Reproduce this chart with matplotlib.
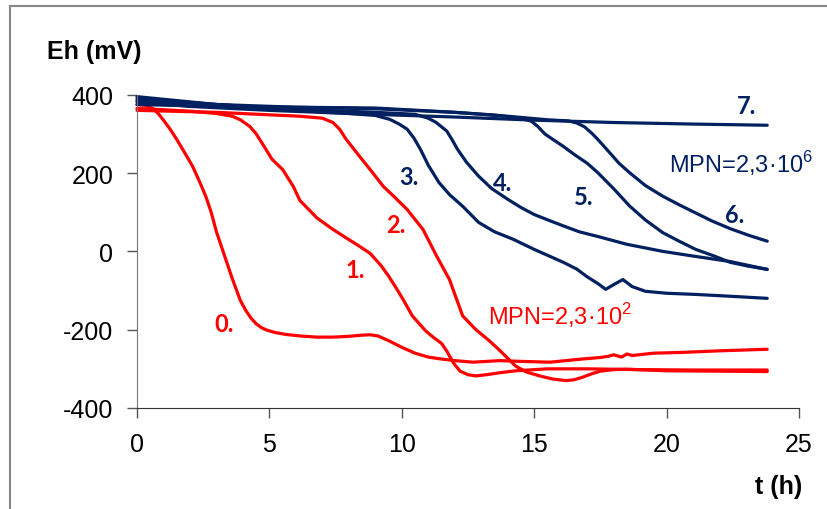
import matplotlib
matplotlib.use("Agg")
import matplotlib.pyplot as plt
from matplotlib.lines import Line2D

plt.rcParams['font.family'] = ['Liberation Sans', 'DejaVu Sans']
plt.rcParams['axes.unicode_minus'] = False

RED = "#FF0000"
NAVY = "#002060"

# --- data (t in h, Eh in mV) ---
t0 = [0, 0.3, 0.6, 0.8, 1.0, 1.25, 1.5, 1.8, 2.1, 2.35, 2.6, 2.8, 3.0, 3.2, 3.4,
      3.6, 3.9, 4.1, 4.3, 4.5, 4.7, 4.9, 5.2, 5.6, 6.15, 6.8, 7.4, 8.0, 8.5, 8.8,
      9.1, 9.5, 10.0, 10.5, 11.0, 11.5, 12.0, 12.7, 13.7, 14.5, 15.6, 16.8, 17.5,
      17.8, 18.0, 18.3, 18.5, 18.7, 19.5, 20.6, 22.0, 23.8]
eh0 = [375, 373, 365, 352, 335, 312, 286, 252, 217, 180, 140, 100, 50, 10, -30,
       -70, -125, -150, -170, -185, -195, -201, -207, -212, -216, -219, -219, -217,
       -214, -213, -216, -228, -245, -260, -270, -275, -279, -283, -279, -281, -283,
       -275, -271, -268, -264, -270, -262, -266, -260, -258, -254, -250]

t1 = [0, 2, 3.0, 3.6, 3.9, 4.26, 4.5, 4.8, 5.1, 5.5, 5.9, 6.15, 6.8, 7.4, 8.0,
      8.4, 8.8, 9.2, 9.5, 9.8, 10.05, 10.4, 10.9, 11.2, 11.5, 11.7, 11.95, 12.2,
      12.5, 12.8, 13.2, 13.7, 14.3, 15.5, 17, 19, 21, 23.8]
eh1 = [365, 358, 352, 345, 336, 319, 300, 268, 235, 209, 166, 130, 85, 56, 30,
       13, -5, -35, -63, -95, -123, -165, -203, -220, -235, -255, -285, -306,
       -315, -318, -315, -310, -305, -300, -300, -302, -303, -303]

t2 = [0, 3, 6.15, 7.0, 7.4, 7.65, 7.9, 8.4, 8.85, 9.3, 9.75, 10.2, 10.8, 11.3,
      11.8, 12.3, 12.8, 13.3, 13.7, 14.3, 14.7, 15.2, 15.7, 16.2, 16.5, 16.8,
      17.2, 17.5, 18.0, 18.5, 20, 22, 23.8]
eh2 = [360, 355, 345, 340, 329, 312, 286, 243, 205, 166, 137, 107, 56, -10,
       -72, -165, -200, -228, -253, -293, -308, -318, -326, -330, -328, -322,
       -312, -306, -302, -301, -305, -306, -307]

t3 = [0, 3, 6, 8, 9.0, 9.55, 9.9, 10.2, 10.45, 10.7, 11.0, 11.4, 11.8, 12.3,
      12.9, 13.5, 14.2, 15.0, 15.6, 16.1, 16.6, 17.0, 17.4, 17.7, 18.0, 18.35,
      18.7, 19.2, 20, 21.1, 22.5, 23.8]
eh3 = [395, 375, 360, 352, 347, 337, 325, 312, 290, 261, 220, 176, 145, 115,
       74, 50, 31, 5, -13, -28, -45, -65, -82, -97, -85, -72, -90, -102, -107,
       -110, -115, -120]

t4 = [0, 3, 6, 9, 10.5, 11.0, 11.3, 11.5, 11.7, 11.9, 12.1, 12.45, 12.9, 13.4,
      14.0, 14.5, 15.0, 15.6, 16.1, 16.7, 17.4, 18.5, 19.85, 21, 22.4, 23.8]
eh4 = [390, 375, 363, 355, 350, 340, 329, 318, 307, 285, 261, 227, 192, 160,
       133, 112, 94, 78, 65, 50, 38, 18, 0, -12, -26, -46]

t5 = [0, 3, 6, 9, 12, 13.5, 14.5, 14.9, 15.15, 15.4, 15.7, 16.1, 16.5, 17.0,
      17.4, 18.0, 18.6, 19.2, 19.85, 20.5, 21.1, 21.8, 22.4, 23.1, 23.8]
eh5 = [385, 375, 368, 364, 355, 348, 340, 332, 318, 300, 286, 268, 248, 225,
       201, 160, 116, 80, 48, 25, 5, -12, -28, -38, -46]

t6 = [0, 3, 6, 9, 12, 14, 15.5, 16.3, 16.6, 16.9, 17.2, 17.4, 17.85, 18.2, 18.6,
      19.2, 19.85, 20.5, 21.1, 21.7, 22.4, 23.1, 23.8]
eh6 = [375, 370, 368, 366, 355, 345, 336, 333, 328, 318, 300, 286, 252, 225,
       201, 168, 141, 118, 98, 78, 58, 41, 26]

t7 = [0, 2, 5, 8, 12, 15, 18, 21, 23.8]
eh7 = [382, 370, 360, 352, 343, 335, 329, 325, 322]

red_series = [(t0, eh0), (t1, eh1), (t2, eh2)]
blue_series = [(t3, eh3), (t4, eh4), (t5, eh5), (t6, eh6), (t7, eh7)]

# curve labels: text, x, y, colour
labels = [("0.", 3.28, -184, RED), ("1.", 8.23, -46, RED), ("2.", 9.77, 69, RED),
          ("3.", 10.26, 192, NAVY), ("4.", 13.8, 176, NAVY), ("5.", 16.87, 140, NAVY),
          ("6.", 22.57, 94, NAVY), ("7.", 23.0, 373, NAVY)]

fig = plt.figure(figsize=(8.28, 5.10), dpi=100)
ax = fig.add_axes([137 / 828, 1 - 409 / 510, (799 - 137) / 828, (409 - 95.7) / 510])

for t, eh in red_series:
    ax.plot(t, eh, color=RED, lw=2.3, solid_capstyle="round",
            solid_joinstyle="round", clip_on=False)
for t, eh in blue_series:
    ax.plot(t, eh, color=NAVY, lw=2.3, solid_capstyle="round",
            solid_joinstyle="round", clip_on=False)

for txt, x, y, c in labels:
    ax.text(x, y, txt, color=c, fontsize=17, fontweight="bold",
            family=["Lato", "DejaVu Sans"], ha="center", va="center")

ax.text(20.1, 204, r"MPN=2,3·10$^{\mathregular{6}}$", color=NAVY, fontsize=17,
        ha="left", va="baseline")
ax.text(13.25, -186, r"MPN=2,3·10$^{\mathregular{2}}$", color=RED, fontsize=17,
        ha="left", va="baseline")

ax.set_xlim(0, 25)
ax.set_ylim(-400, 400)
ax.set_xticks([0, 5, 10, 15, 20, 25])
ax.set_yticks([-400, -200, 0, 200, 400])
ax.tick_params(labelsize=18, length=7, width=1, color="#555555", pad=10)
ax.spines["top"].set_visible(False)
ax.spines["right"].set_visible(False)
ax.spines["left"].set_color("#777777")
ax.spines["bottom"].set_color("#333333")

fig.text(47 / 828, 1 - 52 / 510, "Eh (mV)", fontsize=18, fontweight="bold",
         ha="left", va="center")
fig.text(802 / 828, 1 - 487 / 510, "t (h)", fontsize=18, fontweight="bold",
         ha="right", va="center")

# grey frame round the chart area (left and top edges visible)
fig.add_artist(Line2D([10 / 828, 10 / 828], [0, 1 - 7 / 510],
                      transform=fig.transFigure, color="#888888", lw=1.5))
fig.add_artist(Line2D([10 / 828, 1], [1 - 7 / 510, 1 - 7 / 510],
                      transform=fig.transFigure, color="#888888", lw=1.5))

fig.savefig("out.png", dpi=100)
